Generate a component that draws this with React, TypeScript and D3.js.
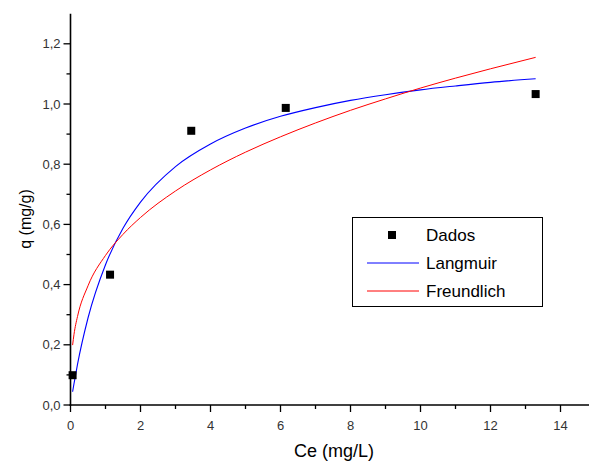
import React from "react";
import * as d3 from "d3";

// measured points
const dadosCe = [0.06, 1.13, 3.45, 6.15, 13.29];
const dadosQ = [0.099, 0.433, 0.911, 0.987, 1.033];

// fitted curves
const curveCe = [0.06, 0.1, 0.2, 0.5, 1, 1.5, 2, 3, 4, 5, 6, 7, 8, 9, 10, 11, 12, 13.29];
const langmuirQ = [0.044, 0.071, 0.135, 0.289, 0.466, 0.587, 0.674, 0.792, 0.867, 0.92, 0.959, 0.988, 1.012, 1.031, 1.047, 1.06, 1.072, 1.084];
const freundlichQ = [0.199, 0.235, 0.294, 0.396, 0.497, 0.567, 0.623, 0.711, 0.781, 0.84, 0.891, 0.937, 0.979, 1.017, 1.053, 1.086, 1.117, 1.155];

const xMajor = [0, 2, 4, 6, 8, 10, 12, 14];
const xMinor = [1, 3, 5, 7, 9, 11, 13];
const yMajor = [0, 0.2, 0.4, 0.6, 0.8, 1.0, 1.2];
const yMinor = [0.1, 0.3, 0.5, 0.7, 0.9, 1.1];

const legendItems = ["Dados", "Langmuir", "Freundlich"];

const W = 589;
const H = 461;
const font = "'Liberation Sans', Arial, sans-serif";

export default function App() {
  const x = d3.scaleLinear().domain([0, 15]).range([70.5, 595.5]);
  const y = d3.scaleLinear().domain([0, 1.3]).range([405, 13.7]);

  const line = d3
    .line<number>()
    .x((d, i) => x(curveCe[i]))
    .y((d) => y(d))
    .curve(d3.curveMonotoneX);

  const fmt = (v: number) => v.toFixed(1).replace(".", ",");

  return (
    <svg width={W} height={H} style={{ position: "absolute", left: 0, top: 0, background: "#fff" }}>
      {/* curves */}
      <path d={line(langmuirQ) || ""} fill="none" stroke="#0000ff" strokeWidth={1.1} />
      <path d={line(freundlichQ) || ""} fill="none" stroke="#ff0000" strokeWidth={1} />

      {/* data squares */}
      {dadosCe.map((c, i) => (
        <rect key={i} x={x(c) - 4} y={y(dadosQ[i]) - 4} width={8} height={8} fill="#000" />
      ))}

      {/* y axis */}
      <line x1={x(0)} x2={x(0)} y1={y(0) + 1} y2={y(1.3)} stroke="#000" strokeWidth={1.6} />
      {yMajor.map((v) => (
        <g key={v}>
          <line x1={x(0) - 7} x2={x(0)} y1={y(v)} y2={y(v)} stroke="#000" strokeWidth={1.3} />
          <text x={x(0) - 10} y={y(v)} dy="0.35em" textAnchor="end" fontSize={13} fill="#333" fontFamily={font}>
            {fmt(v)}
          </text>
        </g>
      ))}
      {yMinor.map((v) => (
        <line key={v} x1={x(0) - 4} x2={x(0)} y1={y(v)} y2={y(v)} stroke="#000" strokeWidth={1.3} />
      ))}

      {/* x axis */}
      <line x1={x(0) - 1} x2={W} y1={y(0)} y2={y(0)} stroke="#000" strokeWidth={1.6} />
      {xMajor.map((v) => (
        <g key={v}>
          <line x1={x(v)} x2={x(v)} y1={y(0)} y2={y(0) + 7} stroke="#000" strokeWidth={1.3} />
          <text x={x(v)} y={y(0) + 24.5} textAnchor="middle" fontSize={13} fill="#333" fontFamily={font}>
            {v}
          </text>
        </g>
      ))}
      {xMinor.map((v) => (
        <line key={v} x1={x(v)} x2={x(v)} y1={y(0)} y2={y(0) + 4} stroke="#000" strokeWidth={1.3} />
      ))}

      {/* axis titles */}
      <text x={334} y={457} textAnchor="middle" fontSize={18} fill="#000" fontFamily={font}>
        Ce (mg/L)
      </text>
      <text
        transform="translate(30.5,219) rotate(-90)"
        textAnchor="middle"
        fontSize={16}
        fill="#000"
        fontFamily={font}
      >
        q (mg/g)
      </text>

      {/* legend */}
      <rect x={352.5} y={217.5} width={190} height={89} fill="#fff" stroke="#000" strokeWidth={1} />
      {legendItems.map((name, i) => {
        const cy = 235 + i * 28;
        return (
          <g key={name}>
            {i === 0 ? (
              <rect x={388} y={cy - 4} width={8} height={8} fill="#000" />
            ) : (
              <line x1={367} x2={419} y1={cy} y2={cy} stroke={i === 1 ? "#0000ff" : "#ff0000"} strokeWidth={1} />
            )}
            <text x={426} y={cy} dy="0.36em" fontSize={17} fill="#000" fontFamily={font}>
              {name}
            </text>
          </g>
        );
      })}
    </svg>
  );
}
